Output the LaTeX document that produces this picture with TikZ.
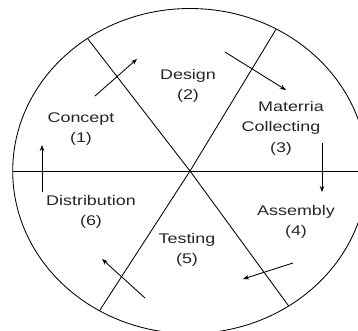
\documentclass[tikz,border=0pt]{standalone}
\usepackage{fontspec}
\newfontfamily\lblfont[FakeStretch=1.28]{Liberation Sans}
\usetikzlibrary{arrows.meta}
\begin{document}
\begin{tikzpicture}[x=1pt,y=-1pt,
  line/.style={line width=0.85pt,black},
  flow/.style={line width=0.85pt,black,-{Stealth[length=6pt,width=4.5pt]}},
  lbl/.style={font=\lblfont\fontsize{14}{20.5}\selectfont,text=black!85,align=center,inner sep=0pt}]
\useasboundingbox (0,0) rectangle (358,330);
\clip (0,0) rectangle (358,330);
\fill[white] (0,0) rectangle (358,330);
% ring
\coordinate (c) at (190,171);
\draw[line] (c) ellipse [x radius=177.3pt, y radius=162.5pt];
% spokes
\coordinate (tl) at (87.5,38.4);
\coordinate (br) at (288.7,306);
\coordinate (tr) at (276.2,29);
\coordinate (bl) at (99.5,310.7);
\coordinate (le) at (12.7,171);
\coordinate (ri) at (370,171);
\draw[line] (tl) -- (c) -- (br);
\draw[line] (tr) -- (c) -- (bl);
\draw[line] (le) -- (ri);
% labels
\node[lbl] (concept) at (81,129) {Concept\\(1)};
\node[lbl] (design) at (188,86) {Design\\(2)};
\node[lbl] (material) at (281,128) {\makebox[0pt]{\hspace*{20pt}Materria}\\Collecting\\(3)};
\node[lbl] (assembly) at (296,222) {Assembly\\(4)};
\node[lbl] (testing) at (187,250) {Testing\\(5)};
\node[lbl] (distribution) at (91,212) {Distribution\\(6)};
% arrows
\coordinate (a1s) at (95,96);  \coordinate (a1e) at (137,59);
\coordinate (a2s) at (225,52); \coordinate (a2e) at (286,90);
\coordinate (a3s) at (322,143); \coordinate (a3e) at (322,192);
\coordinate (a4s) at (293,263); \coordinate (a4e) at (243,279);
\coordinate (a5s) at (145,298); \coordinate (a5e) at (102,259);
\coordinate (a6s) at (42,192); \coordinate (a6e) at (42,145);
\draw[flow] (a1s) -- (a1e);
\draw[flow] (a2s) -- (a2e);
\draw[flow] (a3s) -- (a3e);
\draw[flow] (a4s) -- (a4e);
\draw[flow] (a5s) -- (a5e);
\draw[flow] (a6s) -- (a6e);
\end{tikzpicture}
\end{document}
